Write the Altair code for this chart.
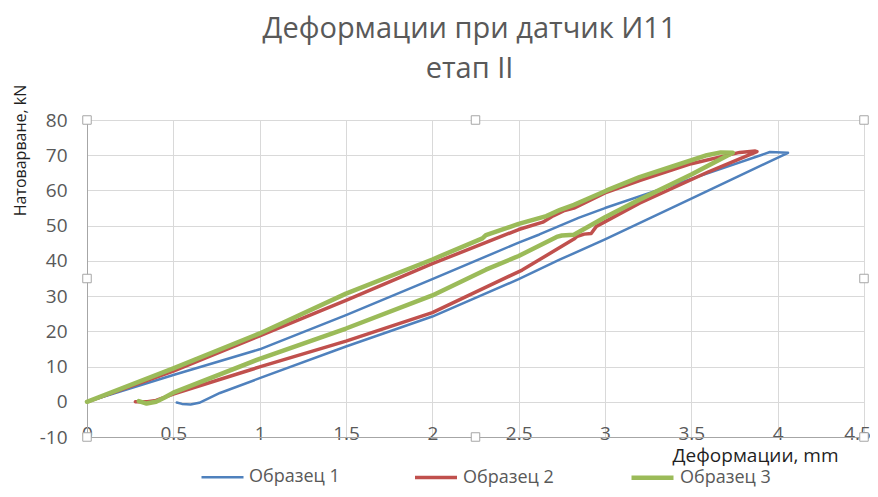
import altair as alt
import pandas as pd

# ---------------- data ----------------
SERIES = ["Образец 1", "Образец 2", "Образец 3"]
COLORS = ["#4F81BD", "#C0504D", "#9BBB59"]
WIDTHS = [2.5, 4.5, 4.5]

X_DOMAIN = [0, 4.5]
Y_DOMAIN = [-10, 80]
X_TICKS = [0, 0.5, 1, 1.5, 2, 2.5, 3, 3.5, 4, 4.5]
Y_TICKS = [-10, 0, 10, 20, 30, 40, 50, 60, 70, 80]

# Образец 1 (loading, then unloading)
s1_x = [0, 0.5, 1.0, 1.5, 2.0, 2.5, 2.62, 2.85, 3.0, 3.5, 3.955, 4.06,
        3.5, 3.0, 2.74, 2.5, 2.0, 1.5, 1.0, 0.77, 0.65, 0.6, 0.55, 0.52]
s1_y = [0, 7.6, 14.9, 24.6, 34.8, 45.2, 47.5, 52.3, 55.0, 63.3, 70.9, 70.7,
        57.7, 46.1, 40.4, 34.8, 24.2, 15.7, 6.7, 2.5, -0.3, -0.8, -0.6, -0.2]

# Образец 2
s2_x = [0, 0.5, 1.0, 1.5, 2.0, 2.5, 2.64, 2.7, 2.76, 2.82, 3.0, 3.2, 3.5, 3.78, 3.87, 3.88,
        3.6, 3.2, 2.95, 2.92, 2.88, 2.84, 2.82, 2.52, 2.0, 1.5, 1.0, 0.5, 0.4, 0.35, 0.28]
s2_y = [0, 8.7, 18.7, 28.8, 39.2, 48.9, 51.0, 52.8, 54.2, 55.0, 59.3, 62.8, 67.6, 70.8, 71.2, 71.0,
        65.3, 56.4, 49.8, 47.8, 47.6, 47.0, 46.2, 37.4, 25.3, 17.2, 9.9, 2.2, 0.4, 0.0, 0.0]

# Образец 3
s3_x = [0, 0.5, 1.0, 1.5, 2.0, 2.29, 2.31, 2.5, 2.66, 2.74, 2.82, 3.01, 3.2, 3.39, 3.59, 3.67, 3.74,
        3.5, 3.2, 3.0, 2.82, 2.75, 2.72, 2.5, 2.31, 2.0, 1.5, 1.0, 0.5, 0.45, 0.4, 0.345, 0.3]
s3_y = [0, 9.5, 19.4, 30.7, 40.4, 46.4, 47.3, 50.5, 52.7, 54.5, 55.9, 60.0, 63.8, 66.8, 70.0, 70.8, 70.7,
        64.5, 57.4, 52.4, 47.4, 47.2, 46.8, 41.4, 37.5, 30.2, 20.8, 12.2, 2.6, 1.2, 0.0, -0.5, 0.2]

TITLE = ["Деформации при датчик И11", "етап II"]
X_TITLE = "Деформации, mm"
Y_TITLE = "Натоварване, kN"

# ---------------- build tables ----------------
rows = []
for name, xs, ys in zip(SERIES, [s1_x, s2_x, s3_x], [s1_y, s2_y, s3_y]):
    for i, (a, b) in enumerate(zip(xs, ys)):
        rows.append({"series": name, "x": a, "y": b, "order": i})
df = pd.DataFrame(rows)

# Excel selection handles: corners and edge midpoints of the plot area
xm = (X_DOMAIN[0] + X_DOMAIN[1]) / 2
ym = (Y_DOMAIN[0] + Y_DOMAIN[1]) / 2
hx = [X_DOMAIN[0], xm, X_DOMAIN[1], X_DOMAIN[0], X_DOMAIN[1], X_DOMAIN[0], xm, X_DOMAIN[1]]
hy = [Y_DOMAIN[1], Y_DOMAIN[1], Y_DOMAIN[1], ym, ym, Y_DOMAIN[0], Y_DOMAIN[0], Y_DOMAIN[0]]
handles = pd.DataFrame({"x": hx, "y": hy})

FONT = "Open Sans"

x_scale = alt.Scale(domain=X_DOMAIN, nice=False, zero=False)
y_scale = alt.Scale(domain=Y_DOMAIN, nice=False, zero=False)

last_x = X_TICKS[-1]

X_ENC = alt.X(
    "x:Q", scale=x_scale,
    axis=alt.Axis(values=X_TICKS, labelExpr="'' + datum.value", title=X_TITLE,
                  titleX=751, titleY=18, titleAlign="right", titleBaseline="middle",
                  titleFontSize=19,
                  labelOffset={"condition": {"test": f"datum.value == {last_x}", "value": -7}, "value": 0},
                  labelPadding=-13, labelFlush=False, labelOverlap=False),
)
Y_ENC = alt.Y(
    "y:Q", scale=y_scale,
    axis=alt.Axis(values=Y_TICKS, labelExpr="'' + datum.value", title=Y_TITLE,
                  titleX=-67, titleY=30, titleAlign="center", titleBaseline="middle",
                  titleFontSize=16,
                  labelPadding=20, labelFlush=False, labelOverlap=False),
)

legend = alt.Legend(
    orient="none", legendX=113, legendY=334, direction="horizontal", title=None,
    symbolType="stroke", symbolSize=1764, labelFont=FONT, labelFontSize=18,
    labelColor="#595959", columnPadding=68, labelOffset=4, padding=0,
)

lines = alt.Chart(df).mark_line(strokeJoin="round", strokeCap="round").encode(
    x=X_ENC,
    y=Y_ENC,
    color=alt.Color("series:N", scale=alt.Scale(domain=SERIES, range=COLORS), legend=legend),
    strokeWidth=alt.StrokeWidth("series:N", scale=alt.Scale(domain=SERIES, range=WIDTHS), legend=legend),
    order="order:Q",
)

marks = alt.Chart(handles).mark_square(
    size=72, fill="white", stroke="#a6a6a6", strokeWidth=1, opacity=1
).encode(x=X_ENC, y=Y_ENC)

chart = alt.layer(lines, marks).properties(
    width=777,
    height=317,
    autosize=alt.AutoSizeParams(type="none"),
    padding={"left": 79, "top": 112, "right": 6, "bottom": 52},
    title=alt.TitleParams(text=TITLE, font=FONT, fontSize=29, fontWeight="normal",
                          color="#595959", anchor="middle", lineHeight=40, offset=0, dx=-6),
).configure_axis(
    gridColor="#d9d9d9", domainColor="#a6a6a6", ticks=False,
    labelColor="#595959", labelFont=FONT, labelFontSize=19,
    titleFont=FONT, titleFontWeight="normal", titleColor="#1f1f1f",
).configure_view(stroke="#b3b3b3")

chart.save("out.html", embed_options={"renderer": "svg", "actions": False})
